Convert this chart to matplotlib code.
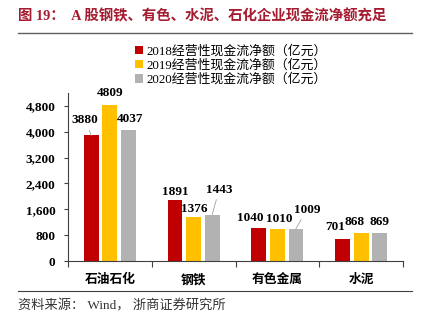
import matplotlib
matplotlib.use("Agg")
import matplotlib.pyplot as plt
from matplotlib.patches import Patch
from matplotlib.ticker import StrMethodFormatter, FixedLocator
import numpy as np

categories = ["石油石化", "钢铁", "有色金属", "水泥"]
series_names = ["2018经营性现金流净额（亿元）", "2019经营性现金流净额（亿元）", "2020经营性现金流净额（亿元）"]
v2018 = [3880, 1891, 1040, 701]
v2019 = [4809, 1376, 1010, 868]
v2020 = [4037, 1443, 1009, 869]
yticks = [0, 800, 1600, 2400, 3200, 4000, 4800]

colors = ["#C00000", "#FFC000", "#B2B2B2"]
FAM = ["Liberation Serif", "Noto Sans CJK SC"]

# label offsets in pixels (dx, dy) relative to bar top, and whether leader line
label_offsets = [
    [(-6, 15, True), (0, 12, False), (2, 11, False)],
    [(0, 8, False), (1, 8, False), (7, 25, True)],
    [(-9, 10, False), (2, 10, False), (11, 19, True)],
    [(-7, 12, False), (-7, 11, False), (0, 11, False)],
]

fig = plt.figure(figsize=(4.24, 3.28), dpi=100)
ax = fig.add_axes([68/424, 1-261.3/328, (403-68)/424, (261.3-92.7)/328])

x = np.arange(len(categories))
step = 0.222
width = 0.178
series = [v2018, v2019, v2020]
for s, (vals, c) in enumerate(zip(series, colors)):
    xs = x + (s - 1) * step
    ax.bar(xs, vals, width=width, color=c, edgecolor="none", zorder=2)
    for i, v in enumerate(vals):
        dx, dy, lead = label_offsets[i][s]
        kw = {}
        if lead:
            kw["arrowprops"] = dict(arrowstyle="-", color="#A0A0A0", lw=0.6,
                                    shrinkA=1, shrinkB=0)
        ax.annotate(str(v), xy=(xs[i], v), xytext=(dx, dy),
                    textcoords="offset pixels", ha="center", va="center",
                    fontsize=9.5, fontweight="bold", family="Liberation Serif",
                    color="black", **kw)

ax.set_xlim(-0.5, 3.5)
ax.set_ylim(0, 5200)
ax.set_yticks(yticks)
ax.yaxis.set_major_formatter(StrMethodFormatter("{x:,.0f}"))
for lab in ax.get_yticklabels():
    lab.set_family("Liberation Serif")
    lab.set_fontweight("bold")
    lab.set_fontsize(9.5)
ax.tick_params(axis="y", length=3, width=0.8, color="#404040", pad=6)

ax.set_xticks(x)
ax.set_xticklabels(categories, family=FAM, fontsize=9.2, fontweight="bold")
ax.tick_params(axis="x", which="major", length=0, pad=9)
ax.xaxis.set_minor_locator(FixedLocator([-0.5, 0.5, 1.5, 2.5, 3.5]))
ax.tick_params(axis="x", which="minor", length=4, width=0.8, color="#404040")

for sp in ["top", "right"]:
    ax.spines[sp].set_visible(False)
for sp in ["left", "bottom"]:
    ax.spines[sp].set_color("#404040")
    ax.spines[sp].set_linewidth(0.8)

handles = [Patch(facecolor=c, edgecolor="none") for c in colors]
leg = fig.legend(handles, series_names, loc="upper left",
                 bbox_to_anchor=(135/424, 1-45/328), frameon=False,
                 prop={"family": FAM, "size": 9.3},
                 handlelength=0.6, handleheight=0.6, handletextpad=0.3,
                 labelspacing=0.12, borderpad=0, borderaxespad=0)

# title
fig.text(18/424, 1-16/328, "图 19：  A 股钢铁、有色、水泥、石化企业现金流净额充足",
         family=FAM, fontsize=10.4, fontweight="bold", color="#A51C30",
         ha="left", va="center")
fig.add_artist(plt.Line2D([18/424, 412/424], [1-33/328, 1-33/328],
                          color="#606060", lw=1.0, transform=fig.transFigure))
fig.add_artist(plt.Line2D([18/424, 412/424], [1-291/328, 1-291/328],
                          color="#404040", lw=0.8, transform=fig.transFigure))
fig.text(18/424, 1-306/328, "资料来源： Wind， 浙商证券研究所",
         family=FAM, fontsize=9.5, color="#333333", ha="left", va="center")

fig.savefig("out.png", dpi=100)
